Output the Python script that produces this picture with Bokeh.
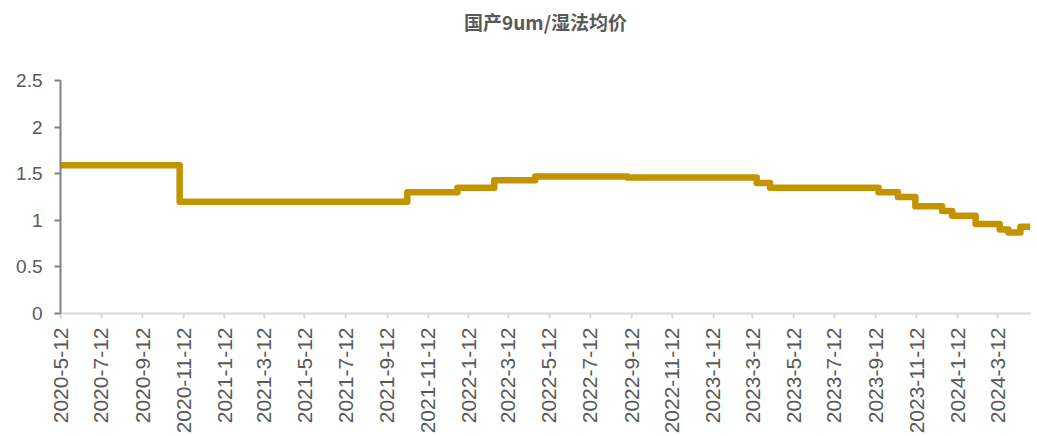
from math import pi

import pandas as pd
from bokeh.embed import file_html
from bokeh.models import FixedTicker, Range1d, Title
from bokeh.plotting import figure
from bokeh.resources import INLINE

# Price change dates and the price level that holds from each date on (yuan/m²)
step_dates = [
    "2020-05-12", "2020-11-06", "2021-10-12", "2021-12-26", "2022-02-19",
    "2022-04-21", "2022-09-06", "2023-03-18", "2023-04-07", "2023-09-16",
    "2023-10-15", "2023-11-10", "2023-12-20", "2024-01-04", "2024-02-08",
    "2024-03-15", "2024-03-28", "2024-04-15",
]
prices = [
    1.59, 1.20, 1.30, 1.35, 1.43,
    1.47, 1.46, 1.40, 1.35, 1.30,
    1.25, 1.15, 1.10, 1.05, 0.96,
    0.90, 0.87, 0.93,
]
end_date = "2024-04-30"

tick_labels = [
    "2020-5-12", "2020-7-12", "2020-9-12", "2020-11-12",
    "2021-1-12", "2021-3-12", "2021-5-12", "2021-7-12", "2021-9-12", "2021-11-12",
    "2022-1-12", "2022-3-12", "2022-5-12", "2022-7-12", "2022-9-12", "2022-11-12",
    "2023-1-12", "2023-3-12", "2023-5-12", "2023-7-12", "2023-9-12", "2023-11-12",
    "2024-1-12", "2024-3-12",
]
y_ticks = [0, 0.5, 1, 1.5, 2, 2.5]
y_tick_labels = ["0", "0.5", "1", "1.5", "2", "2.5"]

title_text = "国产9um/湿法均价"
line_color = "#C49400"
label_color = "#595959"

x = pd.to_datetime(step_dates + [end_date])
y = prices + [prices[-1]]

p = figure(
    width=1037,
    height=436,
    x_axis_type="datetime",
    output_backend="svg",
    toolbar_location=None,
    min_border_left=60,
    min_border_right=7,
    min_border_top=80,
    min_border_bottom=122,
)
p.x_range = Range1d(pd.Timestamp(step_dates[0]), pd.Timestamp(end_date))
p.y_range = Range1d(0, 2.5)

p.step(x, y, mode="after", line_width=6.5, line_color=line_color, line_join="round")

# blank spacer band between the frame and the title
p.add_layout(Title(text=" ", text_font_size="1px", standoff=43), "above")
# chart title, stacked above the spacer
p.add_layout(Title(
    text=title_text,
    align="center",
    standoff=0,
    text_font="Noto Sans CJK SC",
    text_font_size="19px",
    text_font_style="bold",
    text_color=label_color,
), "above")

p.outline_line_color = None
p.xgrid.visible = False
p.ygrid.visible = False

# x axis: bimonthly date ticks, labels rotated upward
tick_ms = [float(t.value // 10**6) for t in pd.to_datetime(tick_labels)]
xa = p.xaxis[0]
xa.ticker = FixedTicker(ticks=tick_ms)
xa.major_label_overrides = {ms: lab for ms, lab in zip(tick_ms, tick_labels)}
xa.major_label_orientation = pi / 2
xa.axis_line_color = "#D9D9D9"
xa.axis_line_width = 2
xa.major_tick_line_color = "#D9D9D9"
xa.major_tick_line_width = 2
xa.major_tick_in = 0
xa.major_tick_out = 5
xa.minor_tick_line_color = None
xa.major_label_text_font = "Liberation Sans"
xa.major_label_text_font_size = "21px"
xa.major_label_text_color = label_color
xa.major_label_standoff = 9

# y axis
ya = p.yaxis[0]
ya.ticker = FixedTicker(ticks=y_ticks)
ya.major_label_overrides = {float(v): lab for v, lab in zip(y_ticks, y_tick_labels)}
ya.axis_line_color = "#808080"
ya.axis_line_width = 2
ya.major_tick_line_color = "#808080"
ya.major_tick_line_width = 2
ya.major_tick_in = 0
ya.major_tick_out = 6
ya.minor_tick_line_color = None
ya.major_label_text_font = "Liberation Sans"
ya.major_label_text_font_size = "19px"
ya.major_label_text_color = label_color
ya.major_label_standoff = 12

open("out.html", "w").write(file_html(p, INLINE))
